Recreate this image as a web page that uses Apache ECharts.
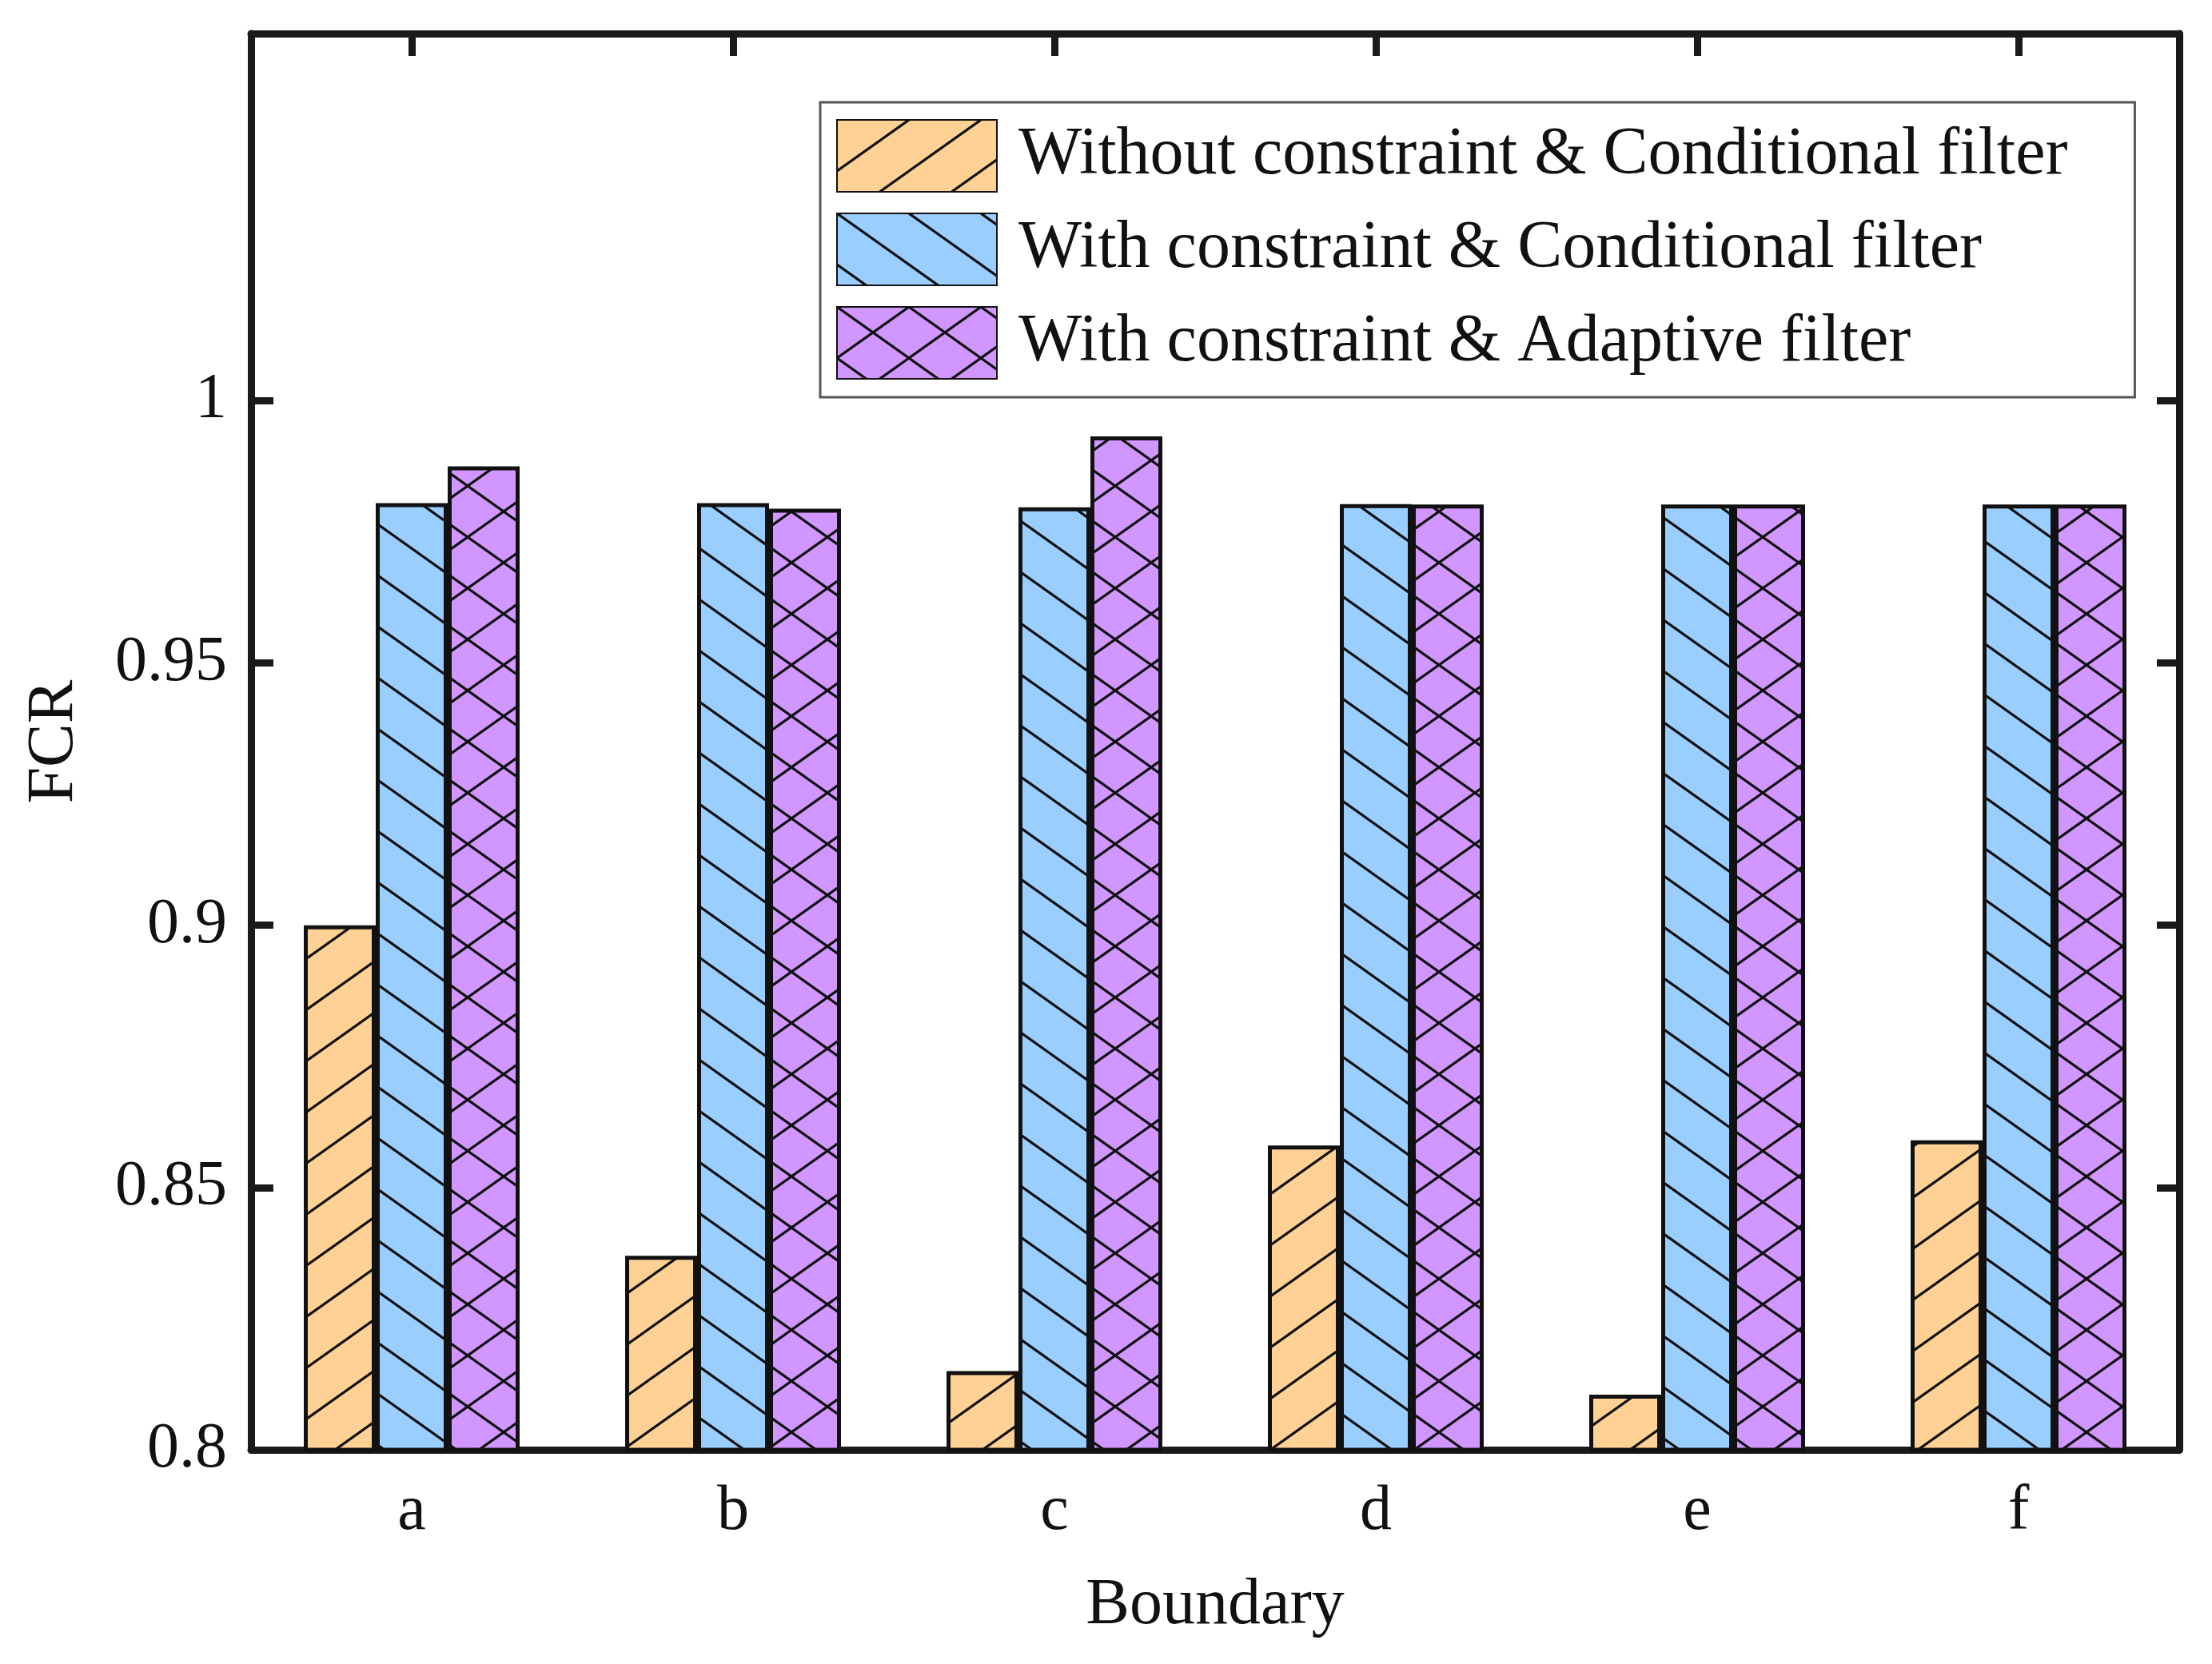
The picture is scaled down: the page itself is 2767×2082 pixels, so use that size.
<!DOCTYPE html>
<html>
<head>
<meta charset="utf-8">
<script src="https://cdn.jsdelivr.net/npm/echarts@6/dist/echarts.min.js"></script>
<style>
html,body{margin:0;padding:0;background:#ffffff;}
#chart{width:2767px;height:2082px;}
</style>
</head>
<body>
<div id="chart"></div>
<script>
// ---- data ----
const categories = ['a', 'b', 'c', 'd', 'e', 'f'];
const seriesNames = [
  'Without constraint & Conditional filter',
  'With constraint & Conditional filter',
  'With constraint & Adaptive filter'
];
const withoutConstraintConditional = [0.900, 0.837, 0.815, 0.858, 0.8105, 0.859];
const withConstraintConditional = [0.9805, 0.9805, 0.9797, 0.9803, 0.9802, 0.9802];
const withConstraintAdaptive = [0.9875, 0.9794, 0.9932, 0.9802, 0.9802, 0.9802];
const yTickValues = [0.8, 0.85, 0.9, 0.95, 1.0];
const yTickLabels = ['0.8', '0.85', '0.9', '0.95', '1'];
const xAxisName = 'Boundary';
const yAxisName = 'FCR';

// ---- hatch patterns ----
function makeHatch(bg, forward, backward) {
  const W = 90, H = 64;
  const c = document.createElement('canvas');
  c.width = W; c.height = H;
  const g = c.getContext('2d');
  g.fillStyle = bg;
  g.fillRect(0, 0, W, H);
  g.strokeStyle = '#111111';
  g.lineWidth = 3.2;
  g.lineCap = 'butt';
  const offs = [-H, 0, H];
  if (forward) {
    offs.forEach(o => {
      g.beginPath(); g.moveTo(-2, H + o + 1.4); g.lineTo(W + 2, o - 1.4); g.stroke();
    });
  }
  if (backward) {
    offs.forEach(o => {
      g.beginPath(); g.moveTo(-2, o - 1.4); g.lineTo(W + 2, H + o + 1.4); g.stroke();
    });
  }
  return { image: c, repeat: 'repeat' };
}

const fills = [
  makeHatch('#FFD194', true, false),
  makeHatch('#99CEFF', false, true),
  makeHatch('#D196FF', true, true)
];
const seriesData = [withoutConstraintConditional, withConstraintConditional, withConstraintAdaptive];

const FONT = 'Liberation Serif';
const chart = echarts.init(document.getElementById('chart'), null, { renderer: 'canvas' });

const axisLineStyle = { color: '#1a1a1a', width: 9 };
const tickStyle = { color: '#1a1a1a', width: 9 };

const option = {
  backgroundColor: '#ffffff',
  animation: false,
  textStyle: { fontFamily: FONT },
  grid: { left: 314, right: 41, top: 42, bottom: 268, containLabel: false },
  legend: {
    orient: 'vertical',
    left: 1026,
    top: 128,
    padding: [21, 84, 22, 20],
    itemWidth: 200,
    itemHeight: 90,
    itemGap: 25,
    icon: 'rect',
    backgroundColor: '#ffffff',
    borderColor: '#555555',
    borderWidth: 3,
    borderRadius: 0,
    textStyle: { fontFamily: FONT, fontSize: 84, color: '#111111', padding: [0, 0, 0, 22] },
    data: seriesNames
  },
  xAxis: [
    {
      type: 'category',
      data: categories,
      position: 'bottom',
      boundaryGap: true,
      axisLine: { show: true, lineStyle: axisLineStyle },
      axisTick: { show: true, inside: true, alignWithLabel: true, length: 28, lineStyle: tickStyle },
      axisLabel: { show: true, fontFamily: FONT, fontSize: 80, color: '#111111', margin: 38 },
      splitLine: { show: false },
      name: xAxisName,
      nameLocation: 'middle',
      nameGap: 154,
      nameTextStyle: { fontFamily: FONT, fontSize: 82, color: '#111111' }
    },
    {
      type: 'category',
      data: categories,
      position: 'top',
      boundaryGap: true,
      axisLine: { show: true, lineStyle: axisLineStyle },
      axisTick: { show: true, inside: true, alignWithLabel: true, length: 28, lineStyle: tickStyle },
      axisLabel: { show: false },
      splitLine: { show: false }
    }
  ],
  yAxis: [
    {
      type: 'value',
      position: 'left',
      min: 0.8,
      max: 1.07,
      axisLine: { show: true, lineStyle: axisLineStyle },
      axisTick: { show: true, inside: true, length: 28, lineStyle: tickStyle, customValues: yTickValues },
      axisLabel: {
        show: true, fontFamily: FONT, fontSize: 80, color: '#111111', margin: 30,
        customValues: yTickValues,
        formatter: function (v) {
          const i = yTickValues.findIndex(t => Math.abs(t - v) < 1e-9);
          return i >= 0 ? yTickLabels[i] : '';
        }
      },
      splitLine: { show: false },
      name: yAxisName,
      nameLocation: 'middle',
      nameGap: 205,
      nameRotate: 90,
      nameTextStyle: { fontFamily: FONT, fontSize: 82, color: '#111111' }
    },
    {
      type: 'value',
      position: 'right',
      min: 0.8,
      max: 1.07,
      axisLine: { show: true, lineStyle: axisLineStyle },
      axisTick: { show: true, inside: true, length: 28, lineStyle: tickStyle, customValues: yTickValues },
      axisLabel: { show: false },
      splitLine: { show: false }
    }
  ],
  series: seriesNames.map((name, i) => ({
    name: name,
    type: 'bar',
    xAxisIndex: 0,
    yAxisIndex: 0,
    data: seriesData[i],
    barWidth: 90,
    barGap: '0%',
    itemStyle: { color: fills[i], borderColor: '#111111', borderWidth: 5 },
    emphasis: { disabled: true }
  }))
};

chart.setOption(option);
</script>
</body>
</html>
